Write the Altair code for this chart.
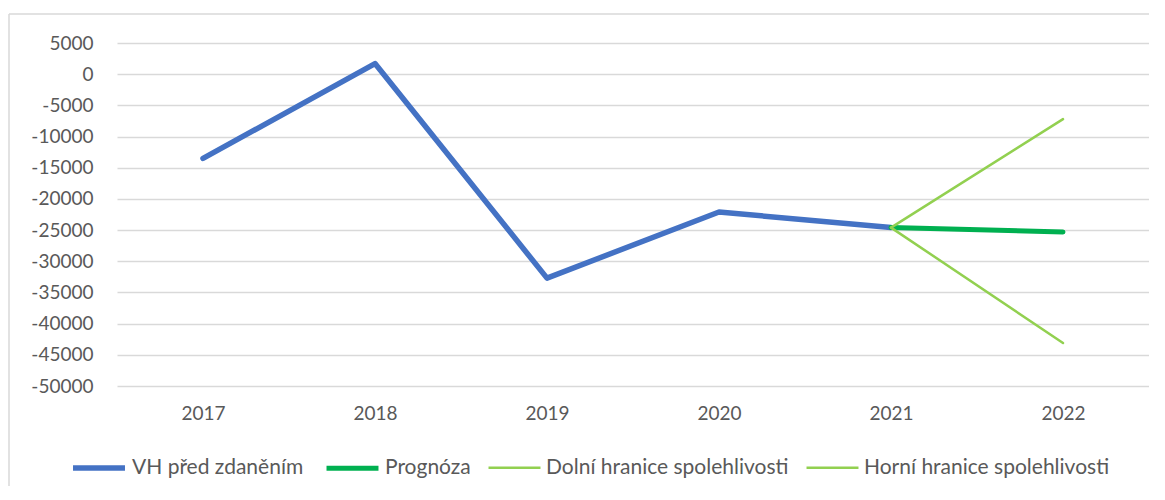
import altair as alt
import pandas as pd

years = ["2017", "2018", "2019", "2020", "2021", "2022"]
series_names = ["VH před zdaněním", "Prognóza", "Dolní hranice spolehlivosti", "Horní hranice spolehlivosti"]
vh = [-13500, 1700, -32700, -22100, -24600, None]
prognoza = [None, None, None, None, -24600, -25300]
dolni = [None, None, None, None, -24600, -43100]
horni = [None, None, None, None, -24600, -7200]
colors = ["#4472C4", "#00B050", "#92D050", "#92D050"]
widths = [5.5, 5, 2.5, 2.5]
y_ticks = list(range(-50000, 5001, 5000))

rows = []
for name, vals in zip(series_names, [vh, prognoza, dolni, horni]):
    for yr, v in zip(years, vals):
        if v is not None:
            rows.append({"rok": yr, "hodnota": v, "serie": name})
df = pd.DataFrame(rows)

FONT = "Lato"
TXT = "#595959"

leg = alt.Legend(
    title=None, orient="none", legendX=-47, legendY=396, direction="horizontal",
    symbolType="stroke", symbolSize=2700, labelFont=FONT, labelFontSize=21,
    labelColor=TXT, columnPadding=12, labelOffset=4, padding=0, labelLimit=400,
)

lines = alt.Chart(df).mark_line(strokeCap="round", strokeJoin="round").encode(
    x=alt.X("rok:N", sort=years, title=None,
            scale=alt.Scale(domain=years, paddingInner=0, paddingOuter=0.5),
            axis=alt.Axis(labelAngle=0, ticks=False, domain=False, grid=False,
                          labelFont=FONT, labelFontSize=19, labelColor=TXT, labelPadding=18)),
    y=alt.Y("hodnota:Q", title=None,
            scale=alt.Scale(domain=[-50000, 5000], nice=False, zero=False),
            axis=alt.Axis(values=y_ticks, labelExpr="'' + datum.value", ticks=False, domain=False,
                          grid=True, gridColor="#D9D9D9", gridWidth=1.3,
                          labelFont=FONT, labelFontSize=19, labelColor=TXT, labelPadding=24)),
    color=alt.Color("serie:N", scale=alt.Scale(domain=series_names, range=colors), legend=leg),
    strokeWidth=alt.StrokeWidth("serie:N", scale=alt.Scale(type="ordinal", domain=series_names, range=widths), legend=leg),
    order=alt.Order("rok:N"),
)

frame_left = alt.Chart(pd.DataFrame({"a": [0]})).mark_rule(color="#D9D9D9", strokeWidth=1.5).encode(
    x=alt.value(-108), y=alt.value(-29), y2=alt.value(470))
frame_top = alt.Chart(pd.DataFrame({"a": [0]})).mark_rule(color="#D9D9D9", strokeWidth=1.5).encode(
    x=alt.value(-108), x2=alt.value(1040), y=alt.value(-29))

chart = alt.layer(frame_left, frame_top, lines).properties(
    width=1032, height=343,
    autosize=alt.AutoSizeParams(type="none"),
    padding={"left": 109, "top": 35, "right": 0, "bottom": 100},
).configure_view(strokeWidth=0).configure_legend(padding=0)

chart.save("out.html", embed_options={"renderer": "svg", "actions": False})
